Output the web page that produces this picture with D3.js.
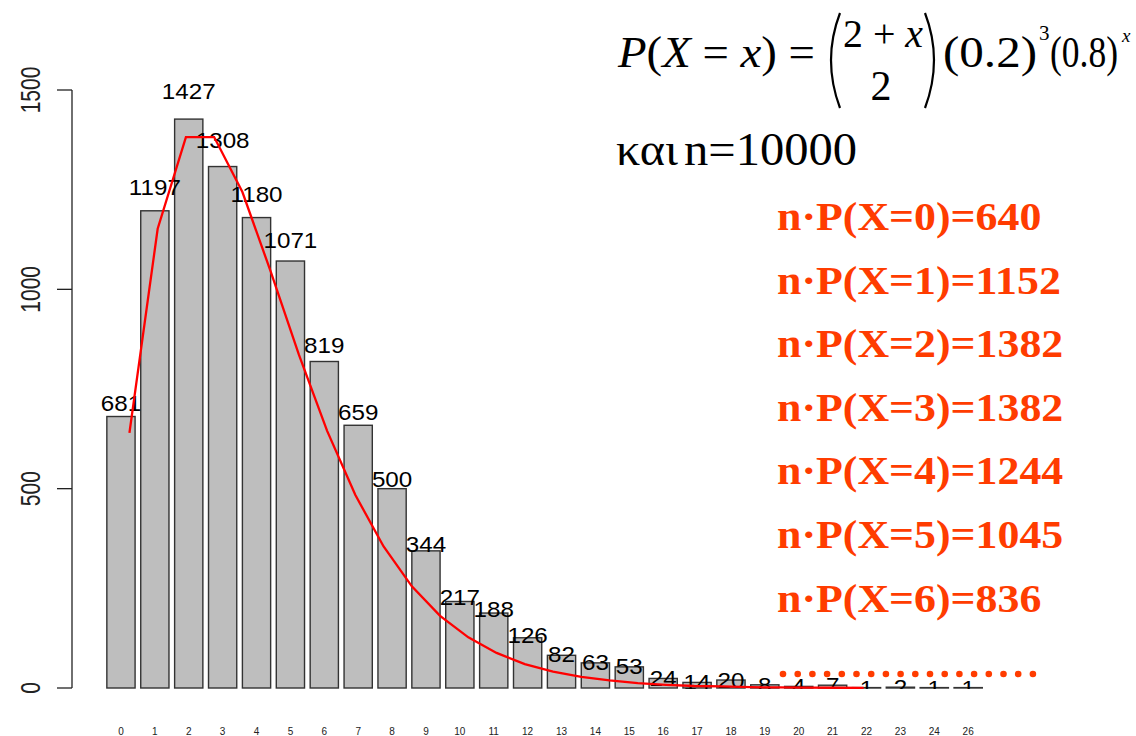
<!DOCTYPE html>
<html>
<head>
<meta charset="utf-8">
<script src="https://cdn.jsdelivr.net/npm/d3@7"></script>
<style>
    body { margin: 0; background: white; }
    svg { display: block; }
</style>
</head>
<body>
<div id="chart"></div>
<script>
// observed counts for each value of X
var categories = ["0","1","2","3","4","5","6","7","8","9","10","11","12",
                  "13","14","15","16","17","18","19","20","21","22","23","24","26"];
var counts = [681, 1197, 1427, 1308, 1180, 1071, 819, 659, 500, 344, 217, 188, 126,
              82, 63, 53, 24, 14, 20, 8, 4, 7, 1, 2, 1, 1];

// expected counts n*P(X=k), k = 0..26 (red curve)
var expected = [640, 1152, 1382, 1382, 1244, 1045, 836, 645, 484, 355, 255, 181, 127,
                88, 60, 41, 28, 19, 12, 8, 5, 4, 2, 1.5, 1, 0.6, 0.4];

var yTicks = [0, 500, 1000, 1500];

function init(){
    var w = 1136;
    var h = 736;
    var red = "#ff3c00";
    var sans = "'Liberation Sans', Arial, sans-serif";
    var serif = "'Liberation Serif', 'DejaVu Serif', serif";

    var svg = d3.select("#chart")
                .append("svg")
                .attr("width", w)
                .attr("height", h);

    // barplot user coordinates: bar i spans [0.2+1.2i, 1.2+1.2i]
    var xScale = d3.scaleLinear()
                    .domain([0, 31.4])
                    .range([101.2, 101.2 + 31.4 * 28.24]);

    var yScale = d3.scaleLinear()
                    .domain([0, 1500])
                    .range([688, 90]);

    var clip = svg.append("clipPath").attr("id", "plotclip");
    clip.append("rect").attr("x", 0).attr("y", 0).attr("width", w).attr("height", 689);

    // bars
    svg.selectAll("rect.bar")
        .data(counts)
        .enter()
        .append("rect")
        .attr("class", "bar")
        .attr("x", function(d, i){ return xScale(0.2 + 1.2 * i); })
        .attr("y", function(d){ return yScale(d); })
        .attr("width", xScale(1) - xScale(0))
        .attr("height", function(d){ return yScale(0) - yScale(d); })
        .attr("fill", "#bebebe")
        .attr("stroke", "#333")
        .attr("stroke-width", 1.4);

    // count labels above bars
    svg.append("g")
        .attr("clip-path", "url(#plotclip)")
        .selectAll("text")
        .data(counts)
        .enter()
        .append("text")
        .text(function(d){ return d; })
        .attr("transform", function(d, i){
            return "translate(" + xScale(0.7 + 1.2 * i) + "," + yScale(d * 1.05) + ") scale(1.1,1)";
        })
        .attr("text-anchor", "middle")
        .attr("dy", "0.36em")
        .attr("font-family", sans)
        .attr("font-size", 22)
        .attr("fill", "black");

    // expected curve, drawn at x = 1..27 like lines() over a barplot
    var line = d3.line()
                .x(function(d, i){ return xScale(i + 1); })
                .y(function(d){ return yScale(d); });

    svg.append("path")
        .datum(expected)
        .attr("d", line)
        .attr("fill", "none")
        .attr("stroke", "#ff0000")
        .attr("stroke-width", 2.3);

    // y axis
    var yAxis = svg.append("g");
    yAxis.append("line")
        .attr("x1", 72).attr("x2", 72)
        .attr("y1", yScale(0)).attr("y2", yScale(1500))
        .attr("stroke", "#222").attr("stroke-width", 1.3);
    yAxis.selectAll("line.tick")
        .data(yTicks)
        .enter()
        .append("line")
        .attr("class", "tick")
        .attr("x1", 57).attr("x2", 72)
        .attr("y1", function(d){ return yScale(d); })
        .attr("y2", function(d){ return yScale(d); })
        .attr("stroke", "#222").attr("stroke-width", 1.3);
    yAxis.selectAll("text")
        .data(yTicks)
        .enter()
        .append("text")
        .text(function(d){ return d; })
        .attr("transform", function(d){
            return "translate(40," + yScale(d) + ") rotate(-90) scale(1,1.3)";
        })
        .attr("text-anchor", "middle")
        .attr("font-family", sans)
        .attr("font-size", 21)
        .attr("fill", "#222");

    // x category labels (tiny)
    svg.selectAll("text.xlab")
        .data(categories)
        .enter()
        .append("text")
        .attr("class", "xlab")
        .text(function(d){ return d; })
        .attr("x", function(d, i){ return xScale(0.7 + 1.2 * i); })
        .attr("y", 735)
        .attr("text-anchor", "middle")
        .attr("font-family", sans)
        .attr("font-size", 10)
        .attr("fill", "#222");

    // formula
    var f = svg.append("g").attr("fill", "black");

    var t1 = f.append("text").attr("x", 618).attr("y", 67)
                .attr("font-family", serif).attr("font-size", 44)
                .attr("textLength", 197).attr("lengthAdjust", "spacingAndGlyphs");
    t1.append("tspan").attr("font-style", "italic").text("P");
    t1.append("tspan").text("(");
    t1.append("tspan").attr("font-style", "italic").text("X");
    t1.append("tspan").text(" = ");
    t1.append("tspan").attr("font-style", "italic").text("x");
    t1.append("tspan").text(") =");

    // big parentheses of the binomial coefficient
    f.append("path")
        .attr("d", "M840,13 Q822,60 840,108")
        .attr("fill", "none").attr("stroke", "black").attr("stroke-width", 2.2);
    f.append("path")
        .attr("d", "M925,13 Q943,60 925,108")
        .attr("fill", "none").attr("stroke", "black").attr("stroke-width", 2.2);

    var t2 = f.append("text").attr("x", 843).attr("y", 47)
                .attr("font-family", serif).attr("font-size", 40)
                .attr("textLength", 80).attr("lengthAdjust", "spacingAndGlyphs");
    t2.append("tspan").text("2 + ");
    t2.append("tspan").attr("font-style", "italic").text("x");

    f.append("text").attr("x", 881).attr("y", 100)
        .attr("font-family", serif).attr("font-size", 42)
        .attr("text-anchor", "middle").text("2");

    f.append("text").attr("x", 943).attr("y", 67)
        .attr("font-family", serif).attr("font-size", 44)
        .attr("textLength", 94).attr("lengthAdjust", "spacingAndGlyphs").text("(0.2)");
    f.append("text").attr("x", 1039).attr("y", 40)
        .attr("font-family", serif).attr("font-size", 21).text("3");
    f.append("text").attr("x", 1050).attr("y", 67)
        .attr("font-family", serif).attr("font-size", 44)
        .attr("textLength", 68).attr("lengthAdjust", "spacingAndGlyphs").text("(0.8)");
    f.append("text").attr("x", 1122).attr("y", 42)
        .attr("font-family", serif).attr("font-size", 19)
        .attr("font-style", "italic").text("x");

    f.append("text").attr("x", 616).attr("y", 165)
        .attr("font-family", serif).attr("font-size", 46)
        .attr("textLength", 62).attr("lengthAdjust", "spacingAndGlyphs").text("και");
    f.append("text").attr("x", 684).attr("y", 165)
        .attr("font-family", serif).attr("font-size", 46)
        .attr("textLength", 173).attr("lengthAdjust", "spacingAndGlyphs").text("n=10000");

    // red annotation lines n·P(X=k)
    svg.append("g")
        .selectAll("text")
        .data(expected.slice(0, 7))
        .enter()
        .append("text")
        .text(function(d, i){ return "n\u00b7P(X=" + i + ")=" + d; })
        .attr("transform", function(d, i){
            return "translate(777," + (230 + i * 63.6) + ") scale(1.07,1)";
        })
        .attr("font-family", serif)
        .attr("font-weight", "bold")
        .attr("font-size", 41)
        .attr("fill", red);

    // dotted continuation
    svg.selectAll("circle.dot")
        .data(d3.range(18))
        .enter()
        .append("circle")
        .attr("class", "dot")
        .attr("cx", function(d){ return 783 + d * 14.7; })
        .attr("cy", 674)
        .attr("r", 3.3)
        .attr("fill", red);
}

window.onload = init;
</script>
</body>
</html>
